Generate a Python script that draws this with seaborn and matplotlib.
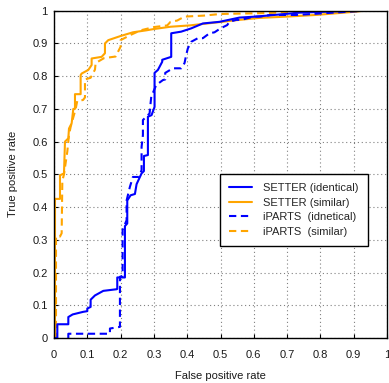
import matplotlib
matplotlib.use("Agg")
import matplotlib.pyplot as plt
import seaborn as sns
import pandas as pd

# ---- data ----
setter_sim_fpr = [0, 0.003, 0.003, 0.018, 0.018, 0.030, 0.033, 0.043, 0.045, 0.053, 0.058, 0.063,
                  0.063, 0.080, 0.080, 0.083, 0.103, 0.113, 0.113, 0.143, 0.153, 0.153, 0.163,
                  0.198, 0.237, 0.277, 0.300, 0.350, 0.407, 0.487, 0.557, 0.617, 0.700, 0.786,
                  0.906, 0.930, 1.0]
setter_sim_tpr = [0, 0.0, 0.425, 0.425, 0.497, 0.503, 0.600, 0.610, 0.640, 0.656, 0.700, 0.700,
                  0.745, 0.745, 0.803, 0.808, 0.819, 0.834, 0.854, 0.859, 0.870, 0.900, 0.910,
                  0.922, 0.934, 0.940, 0.944, 0.951, 0.955, 0.964, 0.972, 0.978, 0.982, 0.987,
                  0.997, 1.0, 1.0]

iparts_sim_fpr = [0, 0.006, 0.006, 0.018, 0.023, 0.025, 0.030, 0.040, 0.045, 0.050, 0.065, 0.070,
                  0.087, 0.093, 0.093, 0.110, 0.123, 0.125, 0.150, 0.185, 0.200, 0.200, 0.230,
                  0.260, 0.300, 0.340, 0.350, 0.370, 0.392, 0.450, 0.500, 0.650, 0.720, 0.750, 1.0]
iparts_sim_tpr = [0, 0.0, 0.310, 0.310, 0.320, 0.480, 0.500, 0.570, 0.620, 0.645, 0.700, 0.725,
                  0.727, 0.735, 0.790, 0.795, 0.820, 0.840, 0.855, 0.860, 0.890, 0.910, 0.926,
                  0.940, 0.950, 0.955, 0.966, 0.970, 0.982, 0.985, 0.990, 0.993, 0.996, 1.0, 1.0]

setter_id_fpr = [0, 0.010, 0.010, 0.043, 0.043, 0.056, 0.088, 0.100, 0.100, 0.110, 0.110, 0.123,
                 0.148, 0.188, 0.190, 0.190, 0.213, 0.213, 0.220, 0.220, 0.230, 0.243, 0.248,
                 0.263, 0.270, 0.270, 0.282, 0.282, 0.293, 0.302, 0.302, 0.312, 0.325, 0.325,
                 0.352, 0.352, 0.382, 0.412, 0.447, 0.497, 0.557, 0.607, 0.640, 0.737, 0.906, 1.0]
setter_id_tpr = [0, 0.0, 0.042, 0.042, 0.064, 0.072, 0.080, 0.082, 0.090, 0.095, 0.117, 0.130,
                 0.144, 0.149, 0.150, 0.185, 0.185, 0.342, 0.350, 0.420, 0.436, 0.440, 0.470,
                 0.503, 0.510, 0.556, 0.559, 0.676, 0.681, 0.706, 0.810, 0.819, 0.844, 0.850,
                 0.859, 0.931, 0.936, 0.946, 0.961, 0.966, 0.979, 0.982, 0.985, 0.994, 1.0, 1.0]

iparts_id_fpr = [0.043, 0.043, 0.168, 0.168, 0.198, 0.198, 0.206, 0.206, 0.218, 0.218, 0.228,
                 0.237, 0.255, 0.263, 0.263, 0.267, 0.267, 0.287, 0.292, 0.307, 0.327, 0.334,
                 0.334, 0.357, 0.382, 0.392, 0.397, 0.402, 0.412, 0.432, 0.447, 0.467, 0.482,
                 0.500, 0.520, 0.527, 0.547, 0.562, 0.600, 0.620, 0.650, 0.727, 0.776, 0.886,
                 0.936, 1.0]
iparts_id_tpr = [0.0, 0.013, 0.013, 0.029, 0.034, 0.187, 0.190, 0.330, 0.360, 0.420, 0.462,
                 0.492, 0.492, 0.513, 0.584, 0.620, 0.666, 0.686, 0.737, 0.773, 0.788, 0.790,
                 0.810, 0.824, 0.824, 0.840, 0.865, 0.885, 0.905, 0.916, 0.916, 0.931, 0.934,
                 0.946, 0.956, 0.966, 0.972, 0.972, 0.982, 0.982, 0.987, 0.987, 0.990, 0.997,
                 1.0, 1.0]

labels = ["SETTER (identical)", "SETTER (similar)", "iPARTS  (idnetical)", "iPARTS  (similar)"]
x_ticks = [0, 0.1, 0.2, 0.3, 0.4, 0.5, 0.6, 0.7, 0.8, 0.9, 1]
x_ticklabels = ["0", "0.1", "0.2", "0.3", "0.4", "0.5", "0.6", "0.7", "0.8", "0.9", "1"]
y_ticks = x_ticks
y_ticklabels = x_ticklabels

# ---- plot ----
sns.set_theme(style="white")
plt.rcParams["font.family"] = ["Liberation Sans", "DejaVu Sans"]

fig = plt.figure(figsize=(3.89, 3.83), dpi=100)
ax = fig.add_axes([54 / 389, 1 - 338 / 383, (387 - 54) / 389, (338 - 10.7) / 383])

BLUE = "#0000ff"
ORANGE = "#ffa500"
series = [
    (setter_id_fpr, setter_id_tpr, BLUE, "-"),
    (setter_sim_fpr, setter_sim_tpr, ORANGE, "-"),
    (iparts_id_fpr, iparts_id_tpr, BLUE, "--"),
    (iparts_sim_fpr, iparts_sim_tpr, ORANGE, "--"),
]
order = [1, 3, 2, 0]  # drawing order; legend order fixed later
handles = {}
for i in order:
    xs, ys, col, ls = series[i]
    df = pd.DataFrame({"fpr": xs, "tpr": ys})
    sns.lineplot(data=df, x="fpr", y="tpr", sort=False, estimator=None, ax=ax,
                 color=col, linewidth=1.5, label=labels[i])
    line = ax.get_lines()[-1]
    if ls == "--":
        line.set_dashes((3.5, 2.2))
    handles[i] = line

ax.set_xlim(0, 1)
ax.set_ylim(0, 1)
ax.set_xticks(x_ticks)
ax.set_xticklabels(x_ticklabels)
ax.set_yticks(y_ticks)
ax.set_yticklabels(y_ticklabels)
ax.grid(True, color="#808080", linestyle=(0, (1, 2.5)), linewidth=0.8)
ax.set_axisbelow(True)
for sp in ax.spines.values():
    sp.set_visible(True)
    sp.set_color("black")
    sp.set_linewidth(1.0)
ax.tick_params(axis="both", direction="in", length=3, width=0.8, color="black",
               labelsize=8, labelcolor="#1a1a1a", left=True, bottom=True)
ax.tick_params(axis="x", pad=8.5)
ax.tick_params(axis="y", pad=4.5)
ax.set_xlabel("False positive rate", fontsize=8, labelpad=8, color="#1a1a1a")
ax.set_ylabel("True positive rate", fontsize=8, labelpad=10, color="#1a1a1a")

leg = ax.legend([handles[i] for i in range(4)], labels, loc="upper left",
                bbox_to_anchor=((220 - 54) / 333, 1 - (174 - 10.7) / 327.3),
                fontsize=8, frameon=True, fancybox=False, edgecolor="black",
                framealpha=1, borderpad=0.8, handlelength=2.1, handletextpad=1.0,
                labelspacing=0.42, borderaxespad=0)
leg.get_frame().set_linewidth(1.0)

fig.savefig("out.png", dpi=100)
